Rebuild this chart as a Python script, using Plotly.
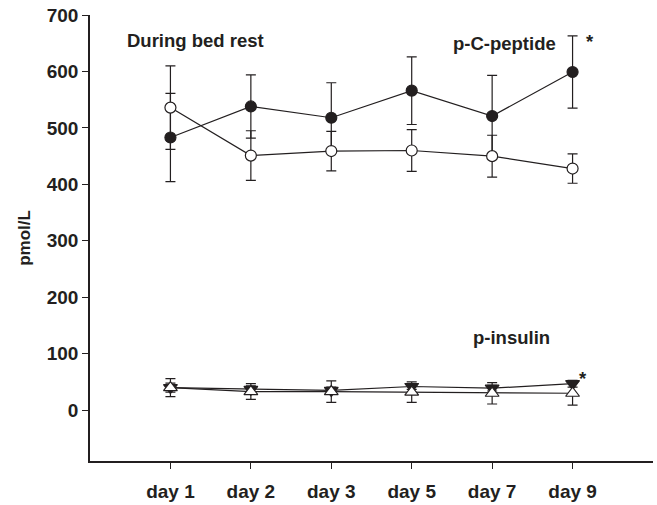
import plotly.graph_objects as go

days = ["day 1", "day 2", "day 3", "day 5", "day 7", "day 9"]

cpep_filled = [483, 538, 518, 566, 521, 599]
cpep_filled_err = [78, 56, 62, 60, 72, 64]
cpep_open = [536, 451, 459, 460, 450, 428]
cpep_open_err = [74, 44, 35, 37, 37, 26]

ins_filled = [40, 37, 35, 42, 39, 47]
ins_filled_err = [8, 6, 6, 5, 5, 6]
ins_open = [40, 33, 33, 32, 30, 30]
ins_open_err = [16, 14, 19, 18, 19, 21]

ink = "#231f20"
FONT = "Liberation Sans"

fig = go.Figure()

def add(y, err, symbol, fill, size):
    fig.add_trace(go.Scatter(
        x=days, y=y, mode="lines+markers",
        line=dict(color=ink, width=1.2),
        marker=dict(symbol=symbol, size=size,
                    color=fill, line=dict(color=ink, width=1.2)),
        error_y=dict(type="data", array=err, visible=True, color=ink,
                     thickness=1.2, width=5),
        showlegend=False,
    ))

add(ins_filled, ins_filled_err, "triangle-down", ink, 12)
add(ins_open, ins_open_err, "triangle-up", "white", 12)
add(cpep_filled, cpep_filled_err, "circle", ink, 11)
add(cpep_open, cpep_open_err, "circle", "white", 11)

tf = dict(family=FONT, size=18.5, color=ink, weight="bold")
annots = [
    dict(x=0.31, y=654, text="During bed rest"),
    dict(x=4.15, y=649, text="p-C-peptide"),
    dict(x=5.22, y=653, text="*"),
    dict(x=4.24, y=128, text="p-insulin"),
    dict(x=5.13, y=56, text="*"),
]
for a in annots:
    fig.add_annotation(x=a["x"], y=a["y"], text=a["text"], showarrow=False,
                       font=tf, xanchor="center", yanchor="middle")

tickfont = dict(family=FONT, size=19, color=ink, weight="bold")
fig.update_layout(
    width=657, height=505,
    margin=dict(l=90, r=4, t=15, b=44),
    plot_bgcolor="white", paper_bgcolor="white",
    font=dict(family=FONT, color=ink),
    xaxis=dict(
        type="category", range=[-1, 6], showgrid=False, zeroline=False,
        showline=True, linecolor=ink, linewidth=1.5, automargin=False,
        ticks="outside", ticklen=6, tickcolor=ink, tickwidth=1.2,
        tickfont=tickfont, ticklabelstandoff=6,
    ),
    yaxis=dict(
        range=[-90, 700], showgrid=False, zeroline=False,
        showline=True, linecolor=ink, linewidth=1.5, automargin=False,
        tickvals=[0, 100, 200, 300, 400, 500, 600, 700],
        ticks="outside", ticklen=6, tickcolor=ink, tickwidth=1.2,
        tickfont=tickfont,
        title=dict(text="pmol/L", font=dict(family=FONT, size=17, color=ink, weight="bold"),
                   standoff=12),
    ),
)

fig.write_html("out.html", config={"displayModeBar": False},
               post_script="document.body.style.margin='0';document.body.style.overflow='hidden';")
